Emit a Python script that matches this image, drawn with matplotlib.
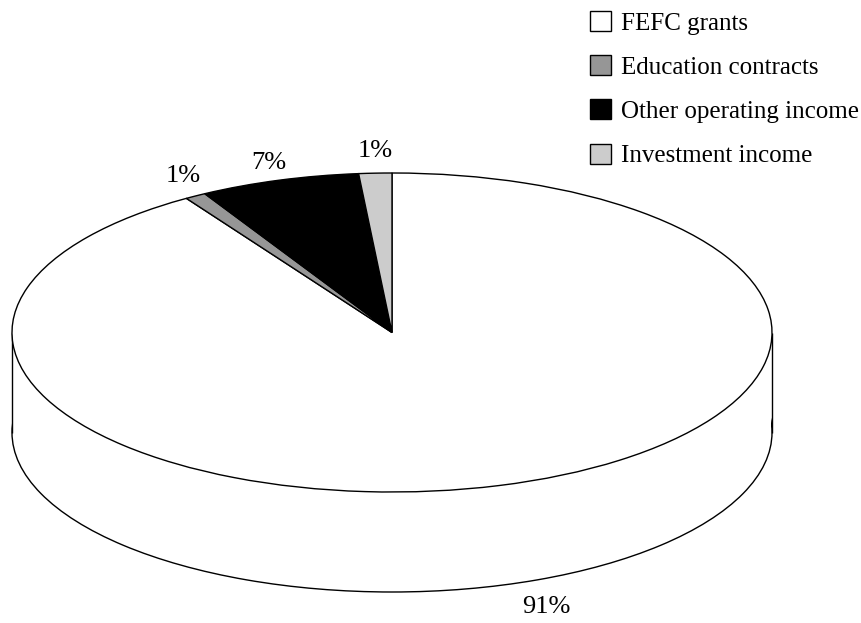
import matplotlib
matplotlib.use('Agg')
import matplotlib.pyplot as plt
from matplotlib.patches import Patch, Rectangle

categories = ['FEFC grants', 'Education contracts', 'Other operating income', 'Investment income']
shares = [90.9, 0.9, 6.8, 1.4]
labels = ['91%', '1%', '7%', '1%']
colors = ['white', '#969696', 'black', '#cccccc']

W, H = 862, 623
cx, cy = 392, 332.5  # centre of top ellipse, px
rx, ry = 380, 159.5
depth = 100

plt.rcParams['font.family'] = ['Liberation Serif', 'DejaVu Serif']

fig = plt.figure(figsize=(W / 100, H / 100), dpi=100)
ax = fig.add_axes([0, 0, 1, 1])
edge = {'edgecolor': 'black', 'linewidth': 1.0}

# side wall: same pie shifted down, white block hides its upper half
d = depth / ry
ax.pie([1], colors=['white'], center=(0, -d), wedgeprops=edge)
ax.add_patch(Rectangle((-0.997, -d), 1.994, d, facecolor='white', edgecolor='none', zorder=2))
ax.plot([-1, -1], [0, -d], color='black', lw=1.0, zorder=2.5, solid_capstyle='butt')
ax.plot([1, 1], [0, -d], color='black', lw=1.0, zorder=2.5, solid_capstyle='butt')

# clockwise from 12 o'clock, FEFC first
wedges, _ = ax.pie(shares, colors=colors, startangle=90, counterclock=False, wedgeprops=edge)
for w in wedges:
    w.set_zorder(3)

ax.set_aspect('auto')
ax.set_xlim(-cx / rx, (W - cx) / rx)
ax.set_ylim((cy - H) / ry, cy / ry)
ax.axis('off')

# label positions in data units
label_pos = [((546 - cx) / rx, (cy - 607) / ry),
             ((183 - cx) / rx, (cy - 176) / ry),
             ((269 - cx) / rx, (cy - 163) / ry),
             ((375 - cx) / rx, (cy - 151) / ry)]
for txt, (x, y) in zip(labels, label_pos):
    ax.text(x, y, txt, ha='center', va='center', fontsize=19, zorder=5)

handles = [Patch(facecolor=c, edgecolor='black', linewidth=1.0) for c in colors]
fig.legend(handles, categories, loc='upper left', bbox_to_anchor=(590 / W, 1 - 11 / H),
           frameon=False, fontsize=18, handlelength=0.86, handleheight=0.86,
           handletextpad=0.4, labelspacing=0.82, borderpad=0, borderaxespad=0)

fig.savefig('out.png', dpi=100)
